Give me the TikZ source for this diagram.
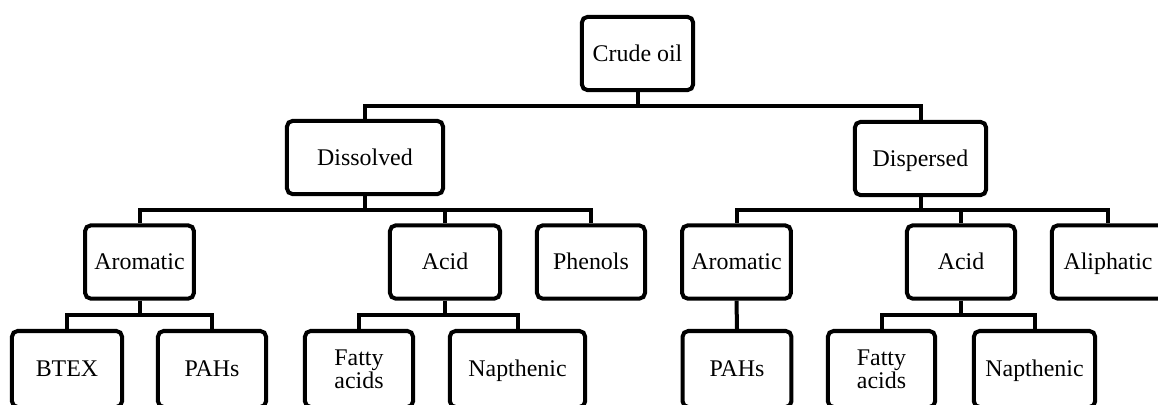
\documentclass[tikz,border=0pt]{standalone}
\usepackage{fontspec}
\setmainfont{Liberation Serif}
\usepackage{tikz}
\usetikzlibrary{calc, positioning}

\tikzset{
  box/.style={draw=black, line width=0.1cm, rounded corners=4pt, fill=white,
              minimum height=1.83cm, inner sep=1pt, align=center,
              font=\fontsize{17}{16.5}\selectfont},
  cell/.style={box, text height=14pt, text depth=3pt},
  leaf/.style={minimum height=1.9cm},
  link/.style={draw=black, line width=0.1cm, line join=miter},
  elbow/.style={to path={|- ($(\tikztostart)!0.5!(\tikztotarget)$) -| (\tikztotarget)}}
}

\begin{document}
\begin{tikzpicture}[x=0.025cm, y=-0.025cm]
  \useasboundingbox (0,0) rectangle (1158,404);

  % Root
  \node[cell, minimum width=2.78cm] (crude) at (637.5,53.5) {Crude oil};

  % Phases
  \node[cell, minimum width=3.9cm]  (dissolved) at (365,157.5) {Dissolved};
  \node[cell, minimum width=3.28cm] (dispersed) at (920.5,158.5) {Dispersed};

  % Dissolved fractions
  \node[cell, minimum width=2.72cm] (aromA)   at (139.5,262) {Aromatic};
  \node[cell, minimum width=2.75cm] (acidA)   at (445,262)   {Acid};
  \node[cell, minimum width=2.7cm]  (phenols) at (591,262)   {Phenols};

  % Dispersed fractions
  \node[cell, minimum width=2.72cm] (aromB)     at (736.5,262) {Aromatic};
  \node[cell, minimum width=2.7cm]  (acidB)     at (961,262)   {Acid};
  \node[cell, minimum width=2.8cm]  (aliphatic) at (1108,262)  {Aliphatic};

  % Leaves (cut by the page edge)
  \node[cell, leaf, minimum width=2.75cm] (btex)   at (67,369)     {BTEX};
  \node[cell, leaf, minimum width=2.7cm]  (pahsA)  at (212,369)    {PAHs};
  \node[box, leaf, minimum width=2.7cm]   (fattyA) at (359,369)    {Fatty\\acids};
  \node[cell, leaf, minimum width=3.38cm] (napthA) at (517.5,369)  {Napthenic};
  \node[cell, leaf, minimum width=2.72cm] (pahsB)  at (737,369)    {PAHs};
  \node[box, leaf, minimum width=2.68cm]  (fattyB) at (881.5,369)  {Fatty\\acids};
  \node[cell, leaf, minimum width=3.03cm] (napthB) at (1034.5,369) {Napthenic};

  % Tree connectors
  \draw[link] (crude.south) to[elbow] (dissolved.north);
  \draw[link] (crude.south) to[elbow] (dispersed.north);
  \foreach \child in {aromA, acidA, phenols}
    \draw[link] (dissolved.south) to[elbow] (\child.north);
  \foreach \child in {aromB, acidB, aliphatic}
    \draw[link] (dispersed.south) to[elbow] (\child.north);
  \draw[link] (aromA.south) to[elbow] (btex.north);
  \draw[link] (aromA.south) to[elbow] (pahsA.north);
  \draw[link] (acidA.south) to[elbow] (fattyA.north);
  \draw[link] (acidA.south) to[elbow] (napthA.north);
  \draw[link] (aromB.south) -- (pahsB.north);
  \draw[link] (acidB.south) to[elbow] (fattyB.north);
  \draw[link] (acidB.south) to[elbow] (napthB.north);
\end{tikzpicture}
\end{document}
